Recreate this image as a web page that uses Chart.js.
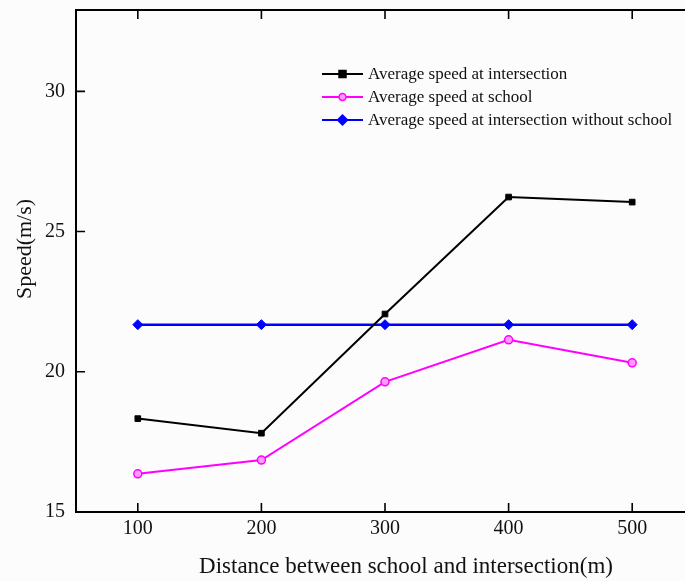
<!doctype html>
<html lang="en">
<head>
<meta charset="utf-8">
<script src="https://cdn.jsdelivr.net/npm/chart.js"></script>
<style>
	html, body { margin: 0; padding: 0; background: #fcfcfc; overflow: hidden; }
	.chart-box { width: 700px; height: 581px; }
</style>
</head>
<body>
<div class="chart-box">
	<canvas id="speed-chart" width="700" height="581"></canvas>
</div>

<script>
	/*--------- data ---------*/
	var distances = ['100', '200', '300', '400', '500'];
	var speedIntersection = [18.33, 17.81, 22.06, 26.23, 26.05];
	var speedSchool = [16.36, 16.85, 19.64, 21.14, 20.32];
	var speedNoSchool = [21.68, 21.68, 21.68, 21.68, 21.68];
	var speedTicks = [15, 20, 25, 30];

	var serif = "'Liberation Serif', 'Times New Roman', serif";

	// frame + inward tick marks on all four sides, titles and the inset legend
	var framePlugin = {
		id: 'frame',
		afterDraw: function (chart) {
			var ctx = chart.ctx;
			var a = chart.chartArea;
			var xs = chart.scales.x, ys = chart.scales.y;
			var tick = 9;
			ctx.save();
			ctx.strokeStyle = '#000';
			ctx.lineWidth = 2;
			ctx.strokeRect(a.left, a.top, a.right - a.left, a.bottom - a.top);

			ctx.lineWidth = 1.6;
			ctx.beginPath();
			xs.ticks.forEach(function (t, i) {
				var px = xs.getPixelForTick(i);
				ctx.moveTo(px, a.bottom); ctx.lineTo(px, a.bottom - tick);
				ctx.moveTo(px, a.top); ctx.lineTo(px, a.top + tick);
			});
			ys.ticks.forEach(function (t) {
				var py = ys.getPixelForValue(t.value);
				ctx.moveTo(a.left, py); ctx.lineTo(a.left + tick, py);
				ctx.moveTo(a.right, py); ctx.lineTo(a.right - tick, py);
			});
			ctx.stroke();

			// axis titles
			ctx.fillStyle = '#111';
			ctx.textAlign = 'center';
			ctx.textBaseline = 'middle';
			ctx.font = '23px ' + serif;
			ctx.fillText('Distance between school and intersection(m)', 406, 567);
			ctx.font = '22px ' + serif;
			ctx.translate(25, 249);
			ctx.rotate(-Math.PI / 2);
			ctx.fillText('Speed(m/s)', 0, 0);
			ctx.setTransform(1, 0, 0, 1, 0, 0);

			// legend
			var lx = 322, lw = 41, ly = 74, step = 23;
			ctx.font = '17px ' + serif;
			ctx.textAlign = 'left';
			chart.data.datasets.forEach(function (ds, i) {
				var y = ly + i * step;
				var cx = lx + lw / 2;
				ctx.strokeStyle = ds.borderColor;
				ctx.lineWidth = 2;
				ctx.beginPath();
				ctx.moveTo(lx, y); ctx.lineTo(lx + lw, y);
				ctx.stroke();
				ctx.fillStyle = ds.pointBackgroundColor;
				ctx.strokeStyle = ds.pointBorderColor;
				ctx.lineWidth = 1.5;
				ctx.beginPath();
				if (ds.pointStyle === 'rect') {
					ctx.rect(cx - 3.5, y - 3.5, 7, 7);
				} else if (ds.pointStyle === 'rectRot') {
					ctx.moveTo(cx, y - 5); ctx.lineTo(cx + 5, y);
					ctx.lineTo(cx, y + 5); ctx.lineTo(cx - 5, y);
					ctx.closePath();
				} else {
					ctx.arc(cx, y, 3.5, 0, Math.PI * 2);
				}
				ctx.fill();
				ctx.stroke();
				ctx.fillStyle = '#111';
				ctx.fillText(ds.label, lx + lw + 5, y + 1);
			});
			ctx.restore();
		}
	};

	var speedChart = new Chart(document.getElementById('speed-chart'), {
		type: 'line',
		data: {
			labels: distances,
			datasets: [{
				label: 'Average speed at intersection',
				data: speedIntersection,
				borderColor: '#000000',
				borderWidth: 2,
				pointStyle: 'rect',
				pointRadius: 4,
				pointBackgroundColor: '#000000',
				pointBorderColor: '#000000',
				pointBorderWidth: 1
			}, {
				label: 'Average speed at school',
				data: speedSchool,
				borderColor: '#ff00ff',
				borderWidth: 2,
				pointStyle: 'circle',
				pointRadius: 4,
				pointBackgroundColor: '#ff9cff',
				pointBorderColor: '#ff00ff',
				pointBorderWidth: 1.5
			}, {
				label: 'Average speed at intersection without school',
				data: speedNoSchool,
				borderColor: '#0000ff',
				borderWidth: 2.5,
				pointStyle: 'rectRot',
				pointRadius: 5,
				pointBackgroundColor: '#0000ff',
				pointBorderColor: '#0000ff',
				pointBorderWidth: 1
			}]
		},
		options: {
			responsive: false,
			animation: false,
			layout: { padding: { top: 10, right: 6, left: 0, bottom: 0 } },
			plugins: {
				legend: { display: false },
				tooltip: { enabled: false }
			},
			scales: {
				x: {
					type: 'category',
					offset: true,
					grid: { display: false, drawTicks: false },
					border: { display: false },
					ticks: {
						color: '#111',
						padding: 5,
						font: { family: serif, size: 20 }
					},
					afterFit: function (scale) {
						scale.height = 69;
						scale.paddingLeft = 0;
						scale.paddingRight = 0;
					}
				},
				y: {
					min: 15,
					max: 32.9,
					grid: { display: false, drawTicks: false },
					border: { display: false },
					afterBuildTicks: function (scale) {
						scale.ticks = speedTicks.map(function (v) { return { value: v }; });
					},
					ticks: {
						color: '#111',
						padding: 11,
						font: { family: serif, size: 20 }
					},
					afterFit: function (scale) {
						scale.width = 76;
						scale.paddingTop = 0;
						scale.paddingBottom = 0;
					}
				}
			}
		},
		plugins: [framePlugin]
	});
</script>
</body>
</html>
